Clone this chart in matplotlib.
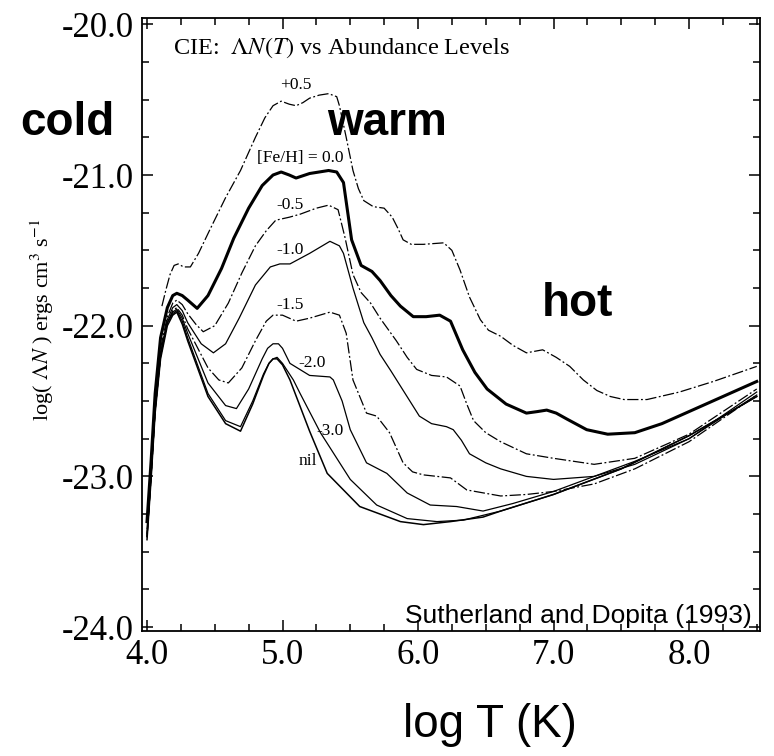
import matplotlib
matplotlib.use("Agg")
import matplotlib.pyplot as plt
from matplotlib.ticker import MultipleLocator, FormatStrFormatter

plt.rcParams['font.family'] = ['Liberation Serif', 'DejaVu Serif']
plt.rcParams['mathtext.fontset'] = 'stix'
plt.rcParams['axes.unicode_minus'] = False

# ---- data (log T, log Lambda_N) ----
x_p05 = [4.11, 4.14, 4.17, 4.20, 4.23, 4.27, 4.32, 4.38, 4.46, 4.58, 4.69, 4.80, 4.87, 4.93, 4.99, 5.05, 5.10, 5.15, 5.20, 5.27, 5.34, 5.40, 5.42, 5.47, 5.52, 5.56, 5.60, 5.67, 5.75, 5.81, 5.855, 5.89, 5.95, 6.04, 6.19, 6.25, 6.31, 6.38, 6.46, 6.52, 6.61, 6.70, 6.80, 6.92, 7.02, 7.12, 7.22, 7.32, 7.42, 7.52, 7.69, 7.93, 8.18, 8.50]
y_p05 = [-21.87, -21.76, -21.66, -21.60, -21.59, -21.61, -21.61, -21.52, -21.37, -21.15, -20.97, -20.75, -20.62, -20.54, -20.51, -20.53, -20.54, -20.52, -20.49, -20.47, -20.46, -20.48, -20.54, -20.75, -20.97, -21.09, -21.17, -21.21, -21.22, -21.28, -21.36, -21.43, -21.46, -21.46, -21.45, -21.50, -21.63, -21.81, -21.96, -22.03, -22.07, -22.13, -22.18, -22.16, -22.21, -22.27, -22.36, -22.43, -22.47, -22.49, -22.49, -22.44, -22.37, -22.27]

x_00 = [4.00, 4.03, 4.06, 4.10, 4.15, 4.19, 4.22, 4.26, 4.30, 4.37, 4.45, 4.55, 4.64, 4.75, 4.85, 4.93, 4.99, 5.05, 5.10, 5.20, 5.34, 5.40, 5.45, 5.51, 5.58, 5.66, 5.72, 5.80, 5.87, 5.965, 6.06, 6.16, 6.24, 6.33, 6.42, 6.51, 6.65, 6.80, 6.88, 6.95, 7.02, 7.10, 7.245, 7.40, 7.60, 7.80, 8.00, 8.25, 8.50]
y_00 = [-23.30, -22.90, -22.45, -22.08, -21.88, -21.80, -21.785, -21.80, -21.83, -21.885, -21.80, -21.62, -21.42, -21.22, -21.07, -21.00, -20.98, -21.00, -21.02, -20.99, -20.97, -20.98, -21.05, -21.43, -21.60, -21.64, -21.70, -21.80, -21.87, -21.94, -21.94, -21.93, -21.97, -22.16, -22.31, -22.42, -22.52, -22.58, -22.57, -22.56, -22.58, -22.62, -22.69, -22.72, -22.71, -22.65, -22.57, -22.47, -22.37]

x_m05 = [4.00, 4.03, 4.06, 4.10, 4.15, 4.19, 4.22, 4.26, 4.30, 4.36, 4.415, 4.50, 4.60, 4.70, 4.80, 4.88, 4.95, 5.05, 5.13, 5.25, 5.34, 5.41, 5.46, 5.52, 5.58, 5.65, 5.72, 5.84, 5.92, 5.99, 6.10, 6.21, 6.31, 6.36, 6.41, 6.50, 6.61, 6.80, 7.00, 7.30, 7.60, 8.00, 8.50]
y_m05 = [-23.35, -22.95, -22.52, -22.15, -21.94, -21.85, -21.83, -21.86, -21.92, -21.99, -22.04, -22.00, -21.85, -21.65, -21.47, -21.37, -21.30, -21.28, -21.26, -21.22, -21.20, -21.23, -21.41, -21.66, -21.78, -21.85, -21.95, -22.10, -22.21, -22.29, -22.33, -22.34, -22.40, -22.52, -22.63, -22.71, -22.77, -22.85, -22.88, -22.92, -22.88, -22.72, -22.42]

x_m10 = [4.00, 4.03, 4.06, 4.10, 4.15, 4.19, 4.22, 4.26, 4.30, 4.40, 4.49, 4.58, 4.68, 4.80, 4.91, 4.98, 5.055, 5.20, 5.35, 5.42, 5.45, 5.52, 5.60, 5.66, 5.72, 5.80, 5.87, 6.01, 6.10, 6.21, 6.26, 6.32, 6.38, 6.50, 6.61, 6.80, 7.00, 7.30, 7.60, 8.00, 8.50]
y_m10 = [-23.38, -22.98, -22.54, -22.18, -21.96, -21.88, -21.86, -21.90, -21.98, -22.12, -22.18, -22.12, -21.95, -21.73, -21.61, -21.59, -21.59, -21.52, -21.44, -21.47, -21.52, -21.75, -21.98, -22.08, -22.19, -22.30, -22.40, -22.60, -22.65, -22.67, -22.69, -22.76, -22.85, -22.91, -22.95, -23.00, -23.02, -23.00, -22.92, -22.75, -22.44]

x_m15 = [4.00, 4.03, 4.06, 4.10, 4.15, 4.19, 4.22, 4.26, 4.30, 4.45, 4.53, 4.60, 4.70, 4.80, 4.88, 4.93, 5.00, 5.10, 5.20, 5.35, 5.42, 5.47, 5.52, 5.62, 5.695, 5.79, 5.89, 5.96, 6.04, 6.24, 6.36, 6.61, 6.80, 7.00, 7.30, 7.60, 8.00, 8.50]
y_m15 = [-23.40, -23.00, -22.56, -22.20, -21.98, -21.90, -21.88, -21.93, -22.02, -22.28, -22.36, -22.38, -22.28, -22.10, -21.97, -21.93, -21.93, -21.97, -21.95, -21.91, -21.93, -22.05, -22.36, -22.58, -22.60, -22.71, -22.91, -22.97, -22.99, -23.01, -23.09, -23.13, -23.12, -23.10, -23.05, -22.95, -22.77, -22.46]

x_m20 = [4.00, 4.03, 4.06, 4.10, 4.15, 4.19, 4.22, 4.26, 4.30, 4.45, 4.58, 4.66, 4.75, 4.85, 4.89, 4.93, 4.97, 5.00, 5.055, 5.20, 5.35, 5.375, 5.44, 5.50, 5.62, 5.77, 5.92, 6.09, 6.285, 6.48, 6.70, 7.00, 7.30, 7.60, 8.00, 8.50]
y_m20 = [-23.40, -23.00, -22.56, -22.20, -21.98, -21.91, -21.89, -21.95, -22.05, -22.38, -22.53, -22.55, -22.42, -22.22, -22.15, -22.12, -22.12, -22.15, -22.25, -22.33, -22.34, -22.36, -22.50, -22.69, -22.91, -22.98, -23.11, -23.19, -23.20, -23.23, -23.18, -23.10, -23.00, -22.90, -22.75, -22.46]

x_m30 = [4.00, 4.03, 4.06, 4.10, 4.15, 4.19, 4.22, 4.26, 4.30, 4.45, 4.58, 4.69, 4.78, 4.86, 4.90, 4.93, 4.96, 5.00, 5.08, 5.13, 5.28, 5.50, 5.695, 5.92, 6.14, 6.335, 6.61, 7.00, 7.50, 8.00, 8.50]
y_m30 = [-23.40, -23.00, -22.56, -22.20, -21.98, -21.92, -21.90, -21.97, -22.08, -22.45, -22.63, -22.67, -22.50, -22.32, -22.25, -22.22, -22.21, -22.25, -22.36, -22.45, -22.71, -23.02, -23.19, -23.28, -23.30, -23.29, -23.23, -23.12, -22.95, -22.73, -22.47]

x_nil = [4.00, 4.03, 4.06, 4.10, 4.15, 4.19, 4.22, 4.26, 4.30, 4.45, 4.58, 4.69, 4.78, 4.86, 4.90, 4.93, 4.96, 5.00, 5.055, 5.20, 5.33, 5.57, 5.87, 6.04, 6.24, 6.48, 6.61, 7.00, 7.50, 8.00, 8.50]
y_nil = [-23.42, -23.02, -22.58, -22.22, -22.00, -21.93, -21.91, -21.99, -22.10, -22.47, -22.65, -22.70, -22.52, -22.33, -22.25, -22.22, -22.22, -22.26, -22.36, -22.70, -22.98, -23.20, -23.30, -23.32, -23.30, -23.27, -23.23, -23.12, -22.95, -22.73, -22.47]

curve_labels = ["+0.5", "[Fe/H] = 0.0", "-0.5", "-1.0", "-1.5", "-2.0", "-3.0", "nil"]
label_x = [5.10, 5.13, 5.055, 5.055, 5.055, 5.215, 5.35, 5.19]
label_y = [-20.40, -20.89, -21.20, -21.50, -21.86, -22.25, -22.70, -22.90]

xticks = [4.0, 5.0, 6.0, 7.0, 8.0]
yticks = [-24.0, -23.0, -22.0, -21.0, -20.0]

W, H = 774, 756
fig = plt.figure(figsize=(W / 100, H / 100), dpi=100)
ax = fig.add_axes([142 / W, 1 - 631 / H, 618 / W, 613 / H])

dd = (0, (9, 2, 1.5, 2))
thin = 0.9
ax.plot(x_p05, y_p05, color='black', lw=thin, ls=dd)
ax.plot(x_00, y_00, color='black', lw=2.2, ls='-')
ax.plot(x_m05, y_m05, color='black', lw=thin, ls=dd)
ax.plot(x_m10, y_m10, color='black', lw=thin, ls='-')
ax.plot(x_m15, y_m15, color='black', lw=thin, ls=dd)
ax.plot(x_m20, y_m20, color='black', lw=thin, ls='-')
ax.plot(x_m30, y_m30, color='black', lw=thin, ls='-')
ax.plot(x_nil, y_nil, color='black', lw=1.1, ls='-')

for t, lx, ly in zip(curve_labels, label_x, label_y):
    ax.text(lx, ly, t, fontsize=12.5, ha='center', va='center', color='black')

ax.set_xlim(3.963, 8.524)
ax.set_ylim(-24.026, -19.958)
ax.set_xticks(xticks)
ax.set_yticks(yticks)
ax.xaxis.set_major_formatter(FormatStrFormatter('%.1f'))
ax.yaxis.set_major_formatter(FormatStrFormatter('%.1f'))
ax.xaxis.set_minor_locator(MultipleLocator(0.25))
ax.yaxis.set_minor_locator(MultipleLocator(0.25))
ax.tick_params(which='both', direction='in', top=True, right=True, width=1.1, labelsize=25)
ax.tick_params(which='major', length=8, pad=6)
ax.tick_params(which='minor', length=5)
for s in ax.spines.values():
    s.set_linewidth(1.3)

ax.text(0.050, 0.951, r'CIE:  $\Lambda N(T)$ vs Abundance Levels', transform=ax.transAxes,
        fontsize=17.5, ha='left', va='center')
ax.text(0.987, 0.013, 'Sutherland and Dopita (1993)', transform=ax.transAxes,
        fontsize=19, ha='right', va='baseline', family='Liberation Sans')

ax.set_ylabel(r'log( $\Lambda N$ ) ergs cm$^3$ s$^{-1}$', fontsize=16)
ax.yaxis.set_label_coords((56 - 142) / 618, (631 - 320) / 613)

fig.text(20 / W, 1 - 135 / H, 'cold', fontsize=33, weight='bold', family='Liberation Sans',
         ha='left', va='baseline')
fig.text(327 / W, 1 - 135 / H, 'warm', fontsize=33, weight='bold', family='Liberation Sans',
         ha='left', va='baseline')
fig.text(542 / W, 1 - 316 / H, 'hot', fontsize=33, weight='bold', family='Liberation Sans',
         ha='left', va='baseline')
fig.text(490 / W, 1 - 725 / H, 'log T (K)', fontsize=33, family='Liberation Sans',
         ha='center', va='center')

fig.savefig('out.png', dpi=100)
